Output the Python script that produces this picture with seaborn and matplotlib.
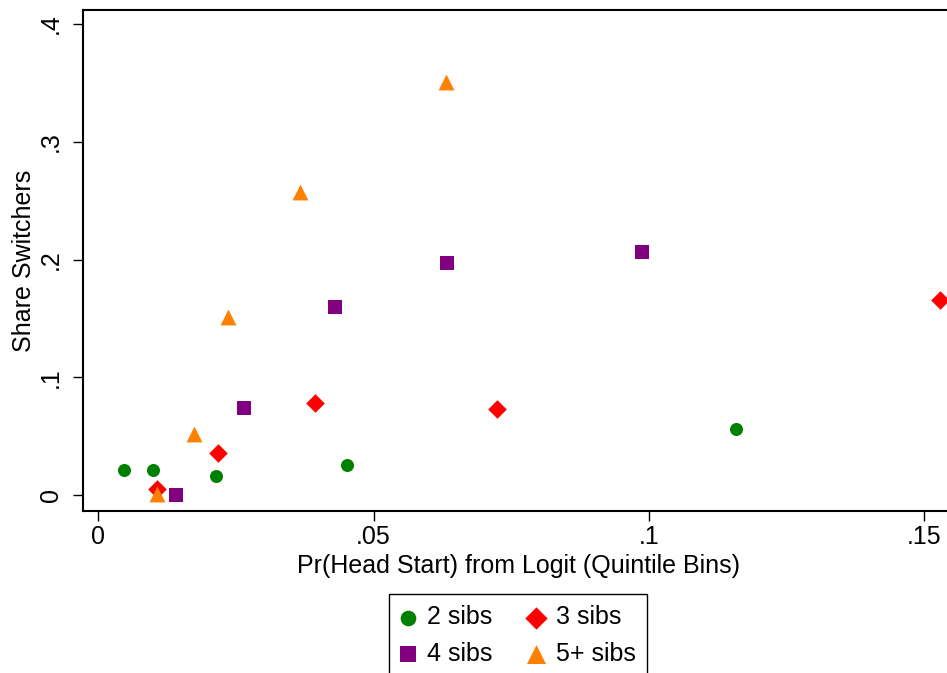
import matplotlib
matplotlib.use("Agg")
import matplotlib.pyplot as plt
import seaborn as sns

# values
x_2sibs = [0.0047, 0.0099, 0.0213, 0.0452, 0.1158]
y_2sibs = [0.021, 0.021, 0.016, 0.0255, 0.056]

x_3sibs = [0.0107, 0.0217, 0.0393, 0.0725, 0.1529]
y_3sibs = [0.005, 0.036, 0.078, 0.073, 0.166]

x_4sibs = [0.0141, 0.0264, 0.0430, 0.0633, 0.0987]
y_4sibs = [0.0, 0.074, 0.160, 0.197, 0.2065]

x_5sibs = [0.0107, 0.0173, 0.0235, 0.0366, 0.0632]
y_5sibs = [0.001, 0.052, 0.1515, 0.2574, 0.3506]

x_ticks = [0, 0.05, 0.1, 0.15]
x_tick_labels = ["0", ".05", ".1", ".15"]
y_ticks = [0, 0.1, 0.2, 0.3, 0.4]
y_tick_labels = ["0", ".1", ".2", ".3", ".4"]

sns.set_style("ticks")
plt.rcParams["font.family"] = ["Liberation Sans", "DejaVu Sans"]
plt.rcParams["text.color"] = "black"
plt.rcParams["axes.labelcolor"] = "black"
plt.rcParams["xtick.color"] = "black"
plt.rcParams["ytick.color"] = "black"

fig = plt.figure(figsize=(9.47, 6.73), dpi=100)
ax = fig.add_axes([0.0873, 0.2407, 0.9211, 0.7444])

#one call per group so each marker can have its own size
sns.scatterplot(x=x_2sibs, y=y_2sibs, marker="o", color="#008000", s=88, linewidth=0, label="2 sibs", ax=ax, legend=False)
sns.scatterplot(x=x_3sibs, y=y_3sibs, marker="D", color="#FF0000", s=90, linewidth=0, label="3 sibs", ax=ax, legend=False)
sns.scatterplot(x=x_4sibs, y=y_4sibs, marker="s", color="#800080", s=100, linewidth=0, label="4 sibs", ax=ax, legend=False)
sns.scatterplot(x=x_5sibs, y=y_5sibs, marker="^", color="#FF8000", s=130, linewidth=0, label="5+ sibs", ax=ax, legend=False)

ax.set_xlim(-0.00283, 0.1556)
ax.set_ylim(-0.0136, 0.4119)
ax.set_xticks(x_ticks, x_tick_labels)
ax.set_yticks(y_ticks, y_tick_labels)
ax.tick_params(axis="both", direction="out", length=7, width=1.0, labelsize=18, color="black", labelcolor="black")
ax.tick_params(axis="x", pad=3)
ax.tick_params(axis="y", pad=7, labelrotation=90)
for lab in ax.get_yticklabels():
    lab.set_va("center")

for sp in ax.spines.values():
    sp.set_linewidth(1.5)
    sp.set_color("black")

ax.set_xlabel("Pr(Head Start) from Logit (Quintile Bins)", fontsize=18, labelpad=4)
ax.set_ylabel("Share Switchers", fontsize=18, labelpad=2)

#legend at the bottom, 2 columns (column-first order)
h, l = ax.get_legend_handles_labels()
order = [0, 2, 1, 3]
leg = fig.legend([h[i] for i in order], [l[i] for i in order], ncol=2, loc="upper left",
                 bbox_to_anchor=(389 / 947, 1 - 594 / 673), borderaxespad=0, fontsize=18,
                 frameon=True, fancybox=False, framealpha=1, edgecolor="black",
                 borderpad=0.45, handlelength=0.58, handletextpad=0.5, columnspacing=1.45,
                 labelspacing=0.5, markerscale=1.2)
leg.get_frame().set_linewidth(1.0)

fig.savefig("out.png", dpi=100)
